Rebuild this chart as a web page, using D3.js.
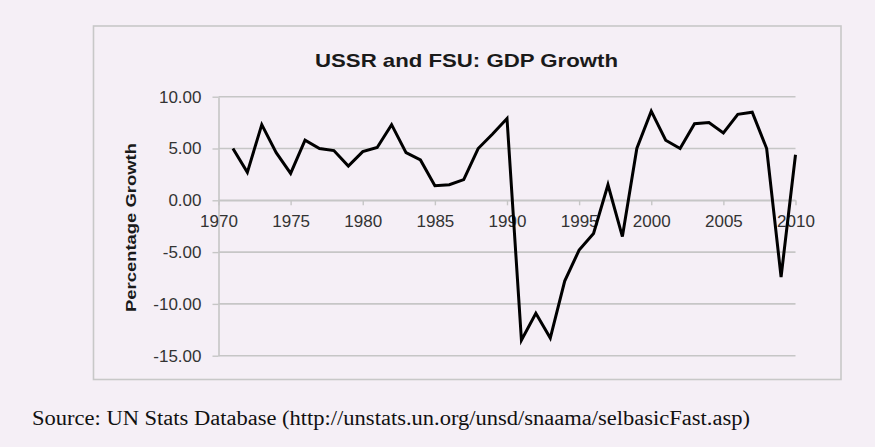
<!DOCTYPE html>
<html>
<head>
<meta charset="utf-8">
<script src="https://cdn.jsdelivr.net/npm/d3@7"></script>
<style>
  body { margin: 0; background: #f5eff6; }
  svg { display: block; }
</style>
</head>
<body>
<svg id="chart" width="875" height="447"></svg>
<script>
// data
const years = d3.range(1971, 2011)
const growth = [
  5.0, 2.7, 7.3, 4.6, 2.6, 5.8, 5.0, 4.8, 3.3, 4.7,
  5.1, 7.3, 4.6, 3.9, 1.4, 1.5, 2.0, 5.0, 6.4, 7.9,
  -13.5, -10.9, -13.3, -7.8, -4.8, -3.2, 1.5, -3.5, 5.0, 8.6,
  5.8, 5.0, 7.4, 7.5, 6.5, 8.3, 8.5, 5.0, -7.4, 4.4
]
const xTicks = [1970, 1975, 1980, 1985, 1990, 1995, 2000, 2005, 2010]
const yTicks = [10, 5, 0, -5, -10, -15]

const title = 'USSR and FSU: GDP Growth'
const yLabel = 'Percentage Growth'
const source = 'Source: UN Stats Database (http://unstats.un.org/unsd/snaama/selbasicFast.asp)'

const svg = d3.select('#chart')
const grid = '#c6c6c6'

// chart frame
svg.append('rect')
  .attr('x', 93.5).attr('y', 26)
  .attr('width', 747.5).attr('height', 353.5)
  .attr('fill', 'none')
  .attr('stroke', '#c8c8c8')
  .attr('stroke-width', 1.6)

const x = d3.scaleLinear().domain([1970, 2010]).range([218.5, 795.5])
const y = d3.scaleLinear().domain([-15, 10]).range([355.7, 96.7])

// gridlines
svg.append('g')
  .selectAll('line')
  .data(yTicks)
  .enter().append('line')
  .attr('x1', x(1970)).attr('x2', x(2010))
  .attr('y1', d => y(d)).attr('y2', d => y(d))
  .attr('stroke', grid)
  .attr('stroke-width', 1.6)

// y axis
const yAxis = svg.append('g')
  .attr('transform', `translate(${x(1970)},0)`)
  .call(d3.axisLeft(y).tickValues(yTicks).tickFormat(d3.format('.2f')).tickSizeInner(6).tickSizeOuter(0).tickPadding(11))
yAxis.select('.domain').attr('stroke', grid).attr('stroke-width', 1.6)
yAxis.selectAll('.tick line').attr('stroke', grid).attr('stroke-width', 1.4)
yAxis.selectAll('.tick text')
  .attr('fill', '#333')
  .style('font', '17px "Liberation Sans", Arial, sans-serif')
  .text(d => d3.format('.2f')(d).replace('−', '-'))

// x axis crossing at zero
const xAxis = svg.append('g')
  .attr('transform', `translate(0,${y(0)})`)
  .call(d3.axisBottom(x).tickValues(xTicks).tickFormat(d3.format('d')).tickSizeInner(5).tickSizeOuter(0).tickPadding(10))
xAxis.select('.domain').attr('stroke', grid).attr('stroke-width', 1.6)
xAxis.selectAll('.tick line').attr('stroke', grid).attr('stroke-width', 1.4)
xAxis.selectAll('.tick text')
  .attr('fill', '#333')
  .style('font', '17px "Liberation Sans", Arial, sans-serif')

// the series
const line = d3.line()
  .x((d, i) => x(years[i]))
  .y(d => y(d))

svg.append('path')
  .datum(growth)
  .attr('d', line)
  .attr('fill', 'none')
  .attr('stroke', '#000')
  .attr('stroke-width', 3)
  .attr('stroke-linejoin', 'miter')

// title
svg.append('text')
  .attr('x', 466.5).attr('y', 66.5)
  .attr('text-anchor', 'middle')
  .attr('textLength', 303)
  .attr('lengthAdjust', 'spacingAndGlyphs')
  .attr('fill', '#1a1a1a')
  .style('font', 'bold 18.5px "Liberation Sans", Arial, sans-serif')
  .text(title)

// y axis label
svg.append('text')
  .attr('transform', 'translate(135.5,227.5) rotate(-90)')
  .attr('text-anchor', 'middle')
  .attr('textLength', 169)
  .attr('lengthAdjust', 'spacingAndGlyphs')
  .attr('fill', '#1a1a1a')
  .style('font', 'bold 14.5px "Liberation Sans", Arial, sans-serif')
  .text(yLabel)

// source note
svg.append('text')
  .attr('x', 32).attr('y', 425)
  .attr('textLength', 718)
  .attr('lengthAdjust', 'spacingAndGlyphs')
  .attr('fill', '#111')
  .style('font', '20px "Liberation Serif", "Times New Roman", serif')
  .text(source)
</script>
</body>
</html>
